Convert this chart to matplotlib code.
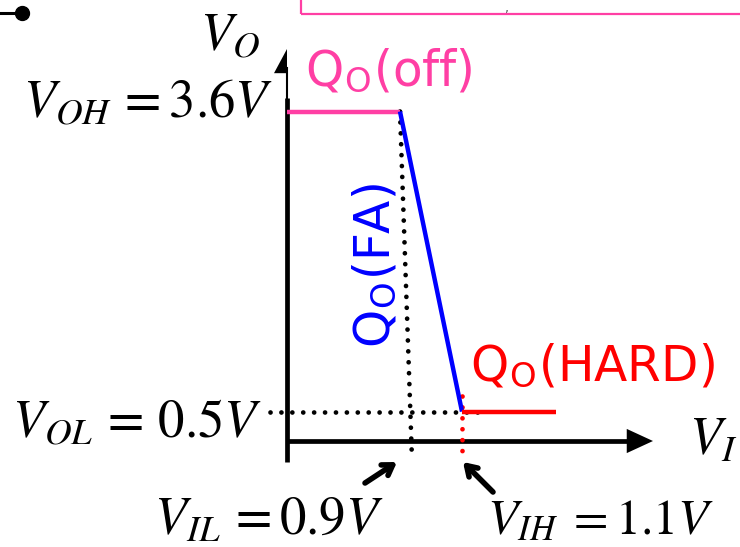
import numpy as np
import matplotlib
matplotlib.use("Agg")
import matplotlib.pyplot as plt
from matplotlib.patches import Polygon, Rectangle

plt.rcParams['mathtext.fontset'] = 'stix'

# transfer characteristic (schematic), volts
vi_pts = [0.4, 0.852, 1.1, 1.476]
vo_pts = [3.6, 3.6, 0.5, 0.5]
seg_colors = ['#ff3fa4', '#0000ff', '#ff0000']
seg_names = [r'Q$_\mathregular{O}$(off)', r'Q$_\mathregular{O}$(FA)', r'Q$_\mathregular{O}$(HARD)']

VOH = 3.6
VOL = 0.5
VIL = 0.9
VIH = 1.1

# where the drawn axes sit (schematic, not at zero)
x0, y0 = 0.4, 0.196
x_end, y_end = 1.864, 4.246

fig = plt.figure(figsize=(7.4, 5.47), dpi=100)
ax = fig.add_axes([0, 0, 1, 1])
ax.set_xlim(-0.748, 2.212)
ax.set_ylim(-0.899, 4.752)
ax.axis('off')

# axes with arrows
ax.plot([x0, x0], [-0.02, 3.74], color='k', lw=3.4, solid_capstyle='butt')
ax.plot([x0, x0], [3.74, y_end - 0.2], color='k', lw=1.5)
ax.add_patch(Polygon([[x0, y_end], [x0 - 0.052, y_end - 0.25], [x0, y_end - 0.25]],
                     closed=True, color='k', lw=0))
ax.plot([x0, x_end - 0.1], [y0, y0], color='k', lw=3.4, solid_capstyle='butt')
ax.add_patch(Polygon([[x_end, y0], [x_end - 0.105, y0 + 0.125], [x_end - 0.105, y0 - 0.125]],
                     closed=True, color='k', lw=0))

# dotted guides
dots = (0, (0.01, 2.3))
ax.plot([vi_pts[1], VIL], [VOH, 0.0], color='k', lw=3.4, ls=dots, dash_capstyle='round')
ax.plot([0.332, 1.164], [VOL, VOL], color='k', lw=3.4, ls=dots, dash_capstyle='round')
ax.plot([VIH, VIH], [0.66, 0.083], color='#ff0000', lw=3.4, ls=dots, dash_capstyle='round')

# curve segments
for i in range(3):
    ax.plot(vi_pts[i:i + 2], vo_pts[i:i + 2], color=seg_colors[i], lw=3.2,
            solid_capstyle='butt')

# segment labels
qfs = 35
ax.text(0.472, 3.874, seg_names[0], color=seg_colors[0], fontsize=qfs,
        family='DejaVu Sans', ha='left', va='baseline')
ax.text(0.752, 2.014, seg_names[1], color=seg_colors[1], fontsize=qfs,
        family='DejaVu Sans', ha='center', va='center', rotation=90)
ax.text(1.132, 0.826, seg_names[2], color=seg_colors[2], fontsize=qfs,
        family='DejaVu Sans', ha='left', va='baseline')

# axis names and levels
fs = 38
ax.text(0.172, 4.39, r'$V_O$', fontsize=fs, ha='center', va='center')
ax.text(2.01, 0.05, r'$V_I$', fontsize=fs, ha='left', va='baseline')
ax.text(0.344, 3.543, r'$V_{OH}\,=3.6V$', fontsize=fs, ha='right', va='baseline')
ax.text(0.30, 0.238, r'$V_{OL}\,=\,0.5V$', fontsize=fs, ha='right', va='baseline')
ax.text(-0.13, -0.77, r'$V_{IL}\,=0.9V$', fontsize=fs, ha='left', va='baseline')
ax.text(1.2, -0.77, r'$V_{IH}\;=1.1V$', fontsize=36, ha='left', va='baseline')

# pointer arrows to VIL / VIH
astyle = dict(arrowstyle='->,head_length=0.7,head_width=0.45', lw=4, color='k',
              shrinkA=0, shrinkB=0)
ax.annotate('', xy=(0.84, -0.021), xytext=(0.712, -0.238), arrowprops=astyle)
ax.annotate('', xy=(1.104, -0.021), xytext=(1.224, -0.331), arrowprops=astyle)

# bits of the surrounding slide
ax.add_patch(Rectangle((0.456, 4.607), 2.0, 0.5, fill=False, ec='#ff3fa4', lw=1.6))
ax.text(1.28, 4.66, ',', fontsize=9, color='#555555', ha='center', va='center')
ax.plot([-0.76, -0.66], [4.618, 4.618], color='k', lw=2.2)
ax.plot([-0.66], [4.618], 'o', color='k', ms=10)

fig.savefig('out.png', dpi=100)
